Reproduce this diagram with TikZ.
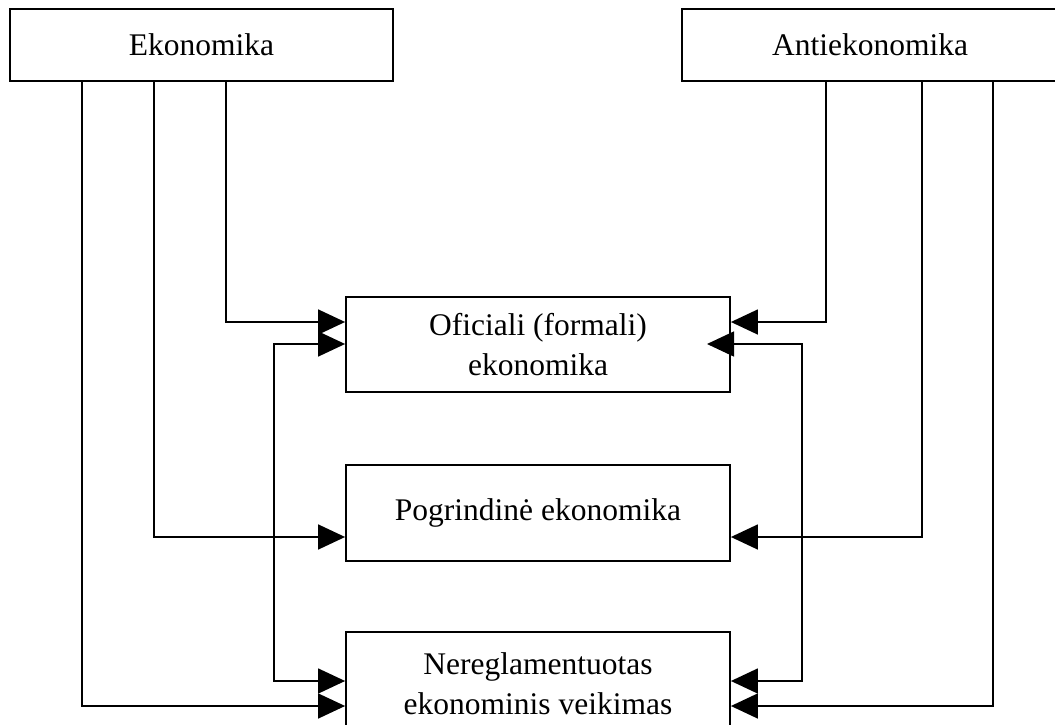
\documentclass[tikz,border=0pt]{standalone}
\usepackage{fontspec}
\setmainfont{Liberation Serif}
\usetikzlibrary{arrows.meta,calc}
\begin{document}
\begin{tikzpicture}[x=1pt,y=-1pt,
  box/.style={draw,line width=1.8pt,rectangle,inner sep=0pt,align=center,
    font=\fontsize{31.5}{40}\selectfont},
  conn/.style={line width=1.5pt,-{Triangle[length=27pt,width=25pt]}},
  conn2/.style={line width=1.5pt,{Triangle[length=27pt,width=25pt]}-{Triangle[length=27pt,width=25pt]}}]
\clip (0,0) rectangle (1055,725);
\useasboundingbox (0,0) rectangle (1055,725);
\fill[white] (0,0) rectangle (1055,725);
% boxes
\node[box,minimum width=383pt,minimum height=72pt] (eko) at (201.5,45) {Ekonomika};
\node[box,minimum width=376pt,minimum height=72pt] (anti) at (870,45) {Antiekonomika};
\node[box,minimum width=384pt,minimum height=95pt] (ofi) at (538,344.5) {Oficiali (formali)\\ekonomika};
\node[box,minimum width=384pt,minimum height=96pt] (pog) at (538,513) {Pogrindinė ekonomika};
\node[box,minimum width=384pt,minimum height=104pt] (ner) at (538,684) {Nereglamentuotas\\ekonominis veikimas};
% columns and rows
\coordinate (c82) at (82,0);
\coordinate (c154) at (154,0);
\coordinate (c226) at (226,0);
\coordinate (c274) at (274,0);
\coordinate (c802) at (802,0);
\coordinate (c826) at (826,0);
\coordinate (c922) at (922,0);
\coordinate (c993) at (993,0);
\coordinate (r322) at (0,322);
\coordinate (r344) at (0,344);
\coordinate (r537) at (0,537);
\coordinate (r681) at (0,681);
\coordinate (r706) at (0,706);
\coordinate (tipR) at (707,344);
% Ekonomika connectors
\draw[conn] (eko.south -| c82) |- (ner.west |- r706);
\draw[conn] (eko.south -| c154) |- (pog.west |- r537);
\draw[conn] (eko.south -| c226) |- (ofi.west |- r322);
% Antiekonomika connectors
\draw[conn] (anti.south -| c826) |- (ofi.east |- r322);
\draw[conn] (anti.south -| c922) |- (pog.east |- r537);
\draw[conn] (anti.south -| c993) |- (ner.east |- r706);
% loops
\draw[conn2] (ofi.west |- r344) -| (c274 |- r681) -- (ner.west |- r681);
\draw[conn2] (tipR) -| (c802 |- r681) -- (ner.east |- r681);
\end{tikzpicture}
\end{document}
